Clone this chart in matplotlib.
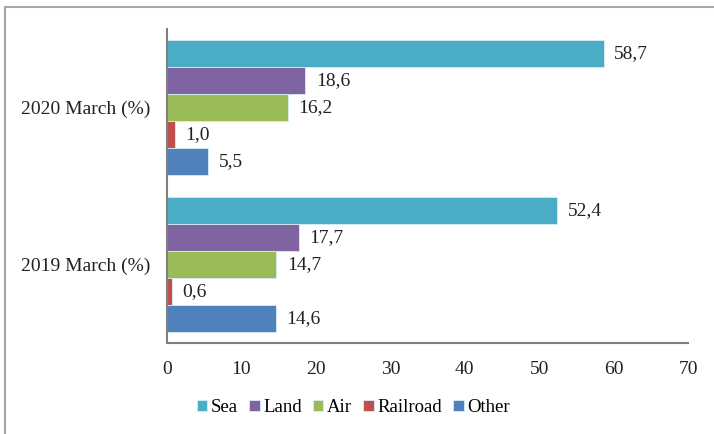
import matplotlib.pyplot as plt
import matplotlib.patches as mpatches
import numpy as np

# data
periods = ['2019 March (%)', '2020 March (%)']
modes = ['Sea', 'Land', 'Air', 'Railroad', 'Other']
sea = [52.4, 58.7]
land = [17.7, 18.6]
air = [14.7, 16.2]
railroad = [0.6, 1.0]
other = [14.6, 5.5]
colors = ['#4BACC6', '#8064A2', '#9BBB59', '#C0504D', '#4F81BD']

plt.rcParams['font.family'] = ['Liberation Serif', 'DejaVu Serif']

fig = plt.figure(figsize=(7.14, 4.34), dpi=100)
ax = fig.add_axes([0.234, 0.21, 0.7296, 0.723])

series = [sea, land, air, railroad, other]
h = 0.173
y = np.arange(len(periods))
for i, (name, vals, c) in enumerate(zip(modes, series, colors)):
    pos = y + (2 - i) * h
    ax.barh(pos, vals, height=h, color=c, edgecolor='#d8eef5', linewidth=0.6, label=name)
    for p, v in zip(pos, vals):
        ax.text(v + 1.4, p, f'{v:.1f}'.replace('.', ','), va='center', ha='left',
                fontsize=14, color='#222222')

ax.set_xlim(0, 70)
ax.set_ylim(-0.5, 1.5)
ax.set_xticks(range(0, 71, 10))
ax.set_yticks(y)
ax.set_yticklabels(periods)
ax.tick_params(axis='both', length=0, labelsize=14, colors='#222222')
ax.tick_params(axis='x', pad=13)
ax.tick_params(axis='y', pad=12)
for s in ['top', 'right']:
    ax.spines[s].set_visible(False)
for s in ['left', 'bottom']:
    ax.spines[s].set_color('#7f7f7f')
    ax.spines[s].set_linewidth(1.5)

fig.legend(loc='center', bbox_to_anchor=(0.495, 0.06), ncol=5, frameon=False,
           fontsize=13.5, handlelength=0.55, handleheight=0.55, handletextpad=0.2,
           columnspacing=0.6)

# outer chart border (only top and left edges are visible in the picture)
fig.patches.append(mpatches.Rectangle((5 / 714, -0.1), 1.2, 1 - 7 / 434 + 0.1,
                                      transform=fig.transFigure, fill=False,
                                      edgecolor='#a6a6a6', linewidth=1.5))

fig.savefig('out.png', dpi=100)
